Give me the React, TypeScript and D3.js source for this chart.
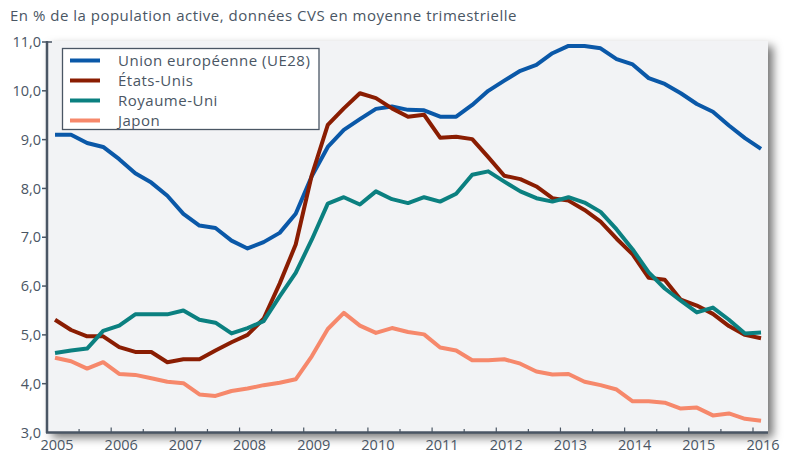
import React, { useEffect, useRef } from "react";
import * as d3 from "d3";

const W = 785;
const H = 455;

const title = "En % de la population active, données CVS en moyenne trimestrielle";

// quarterly data, 2005 T1 -> 2016 T1
const firstYear = 2005;
const yearTicks = [2005, 2006, 2007, 2008, 2009, 2010, 2011, 2012, 2013, 2014, 2015, 2016];
const yTicks = [3, 4, 5, 6, 7, 8, 9, 10, 11];

const seriesNames = ["Union européenne (UE28)", "États-Unis", "Royaume-Uni", "Japon"];
const seriesColors = ["#0a58a8", "#8a1d02", "#0b8080", "#f6886b"];

const ueValues = [9.1, 9.1, 8.93, 8.85, 8.6, 8.31, 8.12, 7.85, 7.48, 7.24, 7.19, 6.93, 6.77, 6.9, 7.09,
  7.48, 8.25, 8.85, 9.2, 9.42, 9.63, 9.68, 9.61, 9.6, 9.47, 9.47, 9.71, 10.0, 10.21, 10.41, 10.53,
  10.77, 10.92, 10.92, 10.87, 10.65, 10.54, 10.26, 10.14, 9.95, 9.73, 9.57, 9.29, 9.03, 8.81];
const usValues = [5.31, 5.1, 4.97, 4.97, 4.75, 4.65, 4.65, 4.44, 4.5, 4.5, 4.68, 4.85, 5.0, 5.33, 6.05,
  6.85, 8.27, 9.3, 9.64, 9.95, 9.85, 9.64, 9.47, 9.51, 9.04, 9.06, 9.01, 8.64, 8.26, 8.19, 8.04,
  7.8, 7.75, 7.56, 7.32, 6.97, 6.65, 6.17, 6.13, 5.72, 5.6, 5.43, 5.18, 5.0, 4.93];
const ukValues = [4.63, 4.68, 4.72, 5.08, 5.19, 5.42, 5.42, 5.42, 5.5, 5.31, 5.25, 5.03, 5.14, 5.28, 5.79,
  6.27, 6.95, 7.69, 7.82, 7.67, 7.94, 7.78, 7.7, 7.82, 7.73, 7.89, 8.28, 8.35, 8.14, 7.94, 7.8,
  7.73, 7.82, 7.71, 7.52, 7.16, 6.75, 6.28, 5.95, 5.7, 5.46, 5.56, 5.31, 5.03, 5.05];
const jpValues = [4.53, 4.46, 4.31, 4.44, 4.2, 4.18, 4.11, 4.04, 4.01, 3.78, 3.75, 3.85, 3.9, 3.97, 4.02,
  4.09, 4.56, 5.12, 5.45, 5.19, 5.04, 5.14, 5.06, 5.01, 4.74, 4.68, 4.48, 4.48, 4.5, 4.41, 4.25,
  4.19, 4.2, 4.04, 3.97, 3.88, 3.64, 3.64, 3.61, 3.49, 3.51, 3.35, 3.39, 3.28, 3.24];

const allSeries = [ueValues, usValues, ukValues, jpValues];

const textColor = "#4a5664";
const font = "'Open Sans', 'Noto Sans', sans-serif";

const App = () => {
  const svgRef = useRef<SVGSVGElement>(null);

  useEffect(() => {
    const svg = d3.select(svgRef.current);
    svg.selectAll("*").remove();

    const x = d3.scaleLinear().domain([2005, 2016]).range([47, 753]);
    const y = d3.scaleLinear().domain([3, 11]).range([432.5, 42]);

    // shadow for the plot panel
    const defs = svg.append("defs");
    const f = defs.append("filter").attr("id", "shadow")
      .attr("x", "-5%").attr("y", "-5%").attr("width", "115%").attr("height", "120%");
    f.append("feDropShadow")
      .attr("dx", 5).attr("dy", 5).attr("stdDeviation", 5)
      .attr("flood-color", "#000").attr("flood-opacity", 0.55);

    svg.append("rect").attr("width", W).attr("height", H).attr("fill", "#fff");

    svg.append("text")
      .attr("x", 10).attr("y", 21)
      .attr("font-family", font).attr("font-size", 15)
      .attr("letter-spacing", 0.5)
      .attr("fill", textColor)
      .text(title);

    // panel
    svg.append("rect")
      .attr("x", 47).attr("y", 41)
      .attr("width", 721).attr("height", 391.5)
      .attr("fill", "#f2f3f5")
      .attr("filter", "url(#shadow)");

    // lines
    const line = d3.line<number>()
      .x((d, i) => x(firstYear + i / 4 + 0.125))
      .y(d => y(d));

    allSeries.forEach((vals, k) => {
      svg.append("path")
        .datum(vals)
        .attr("d", line)
        .attr("fill", "none")
        .attr("stroke", seriesColors[k])
        .attr("stroke-width", 4)
        .attr("stroke-linejoin", "round");
    });

    // axes
    const axisColor = "#4a5664";
    svg.append("line")
      .attr("x1", 47).attr("x2", 47).attr("y1", 41).attr("y2", 433)
      .attr("stroke", axisColor).attr("stroke-width", 2.5);
    svg.append("line")
      .attr("x1", 46).attr("x2", 768).attr("y1", 432.5).attr("y2", 432.5)
      .attr("stroke", axisColor).attr("stroke-width", 2.5);
    svg.append("line")
      .attr("x1", 47).attr("x2", 52).attr("y1", 42).attr("y2", 42)
      .attr("stroke", axisColor).attr("stroke-width", 1.5);

    const yg = svg.append("g");
    yTicks.forEach(t => {
      if (t > 3) {
        yg.append("line")
          .attr("x1", 42).attr("x2", 47).attr("y1", y(t)).attr("y2", y(t))
          .attr("stroke", axisColor).attr("stroke-width", 1.5);
      }
      yg.append("text")
        .attr("x", 41).attr("y", y(t))
        .attr("dy", "0.35em")
        .attr("text-anchor", "end")
        .attr("font-family", font).attr("font-size", 14.5)
        .attr("fill", textColor)
        .text(d3.format(".1f")(t).replace(".", ","));
    });

    const xg = svg.append("g");
    const halfYears = d3.range(2005.5, 2016.01, 0.5);
    halfYears.forEach(t => {
      const full = Number.isInteger(t);
      xg.append("line")
        .attr("x1", x(t)).attr("x2", x(t))
        .attr("y1", 432.5).attr("y2", full ? 427.5 : 429)
        .attr("stroke", axisColor).attr("stroke-width", 1.2);
    });
    yearTicks.forEach(t => {
      xg.append("text")
        .attr("x", x(t) + 10).attr("y", 450)
        .attr("text-anchor", "middle")
        .attr("font-family", font).attr("font-size", 14.5)
        .attr("fill", textColor)
        .text(t);
    });

    // legend
    const lg = svg.append("g");
    lg.append("rect")
      .attr("x", 62.5).attr("y", 48.5).attr("width", 256.5).attr("height", 81)
      .attr("fill", "#fff").attr("stroke", axisColor).attr("stroke-width", 1.3);
    seriesNames.forEach((name, k) => {
      const yy = 60.5 + k * 20;
      lg.append("line")
        .attr("x1", 70).attr("x2", 100).attr("y1", yy).attr("y2", yy)
        .attr("stroke", seriesColors[k]).attr("stroke-width", 4);
      lg.append("text")
        .attr("x", 118).attr("y", yy)
        .attr("dy", "0.35em")
        .attr("font-family", font).attr("font-size", 15)
        .attr("letter-spacing", 0.5)
        .attr("fill", textColor)
        .text(name);
    });
  }, []);

  return (
    <div style={{ position: "absolute", left: 0, top: 0 }}>
      <svg ref={svgRef} width={W} height={H} style={{ display: "block" }}></svg>
    </div>
  );
};

export default App;
